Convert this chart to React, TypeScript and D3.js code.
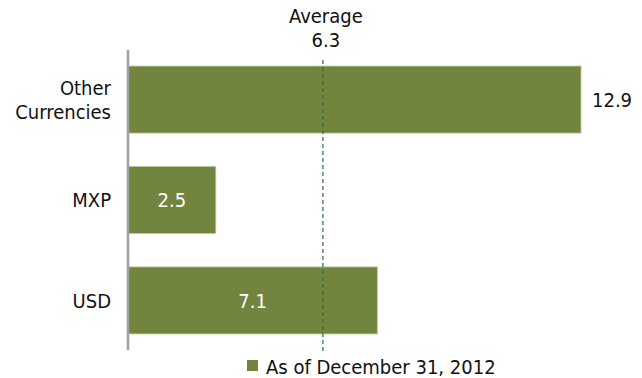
import React from "react";
import * as d3 from "d3";

const categories = ["Other Currencies", "MXP", "USD"];
const values = [12.9, 2.5, 7.1];
const valueLabels = ["12.9", "2.5", "7.1"];
const labelInside = [false, true, true];
const averageLabel = ["Average", "6.3"];
// position where the dashed average marker is drawn in the source picture
const averageMarker = 5.55;
const legendLabel = "As of December 31, 2012";

const W = 642;
const H = 378;
const FONT = "'DejaVu Sans Condensed', 'DejaVu Sans', sans-serif";
const BAR = "#72853F";

export default function App() {
  const x = d3.scaleLinear().domain([0, 12.9]).range([128, 581]);
  const y = d3
    .scaleBand<string>()
    .domain(categories)
    .range([50, 350])
    .paddingInner(0.333)
    .paddingOuter(0.16);
  const bw = y.bandwidth();

  return (
    <svg
      width={W}
      height={H}
      style={{ position: "absolute", left: 0, top: 0, display: "block", background: "#fff" }}
      fontFamily={FONT}
    >
      {categories.map((c, i) => {
        const y0 = y(c)!;
        const cy = y0 + bw / 2;
        const lines = c === "Other Currencies" ? ["Other", "Currencies"] : [c];
        return (
          <g key={c}>
            <rect
              x={x(0)}
              y={y0}
              width={x(values[i]) - x(0)}
              height={bw}
              fill={BAR}
              stroke="#b8c79c"
              strokeWidth={0.8}
            />
            {lines.map((l, k) => (
              <text
                key={l}
                x={111}
                y={cy + (k - (lines.length - 1) / 2) * 24}
                dy="0.36em"
                textAnchor="end"
                fontSize={20}
                fill="#111"
              >
                {l}
              </text>
            ))}
            <text
              x={labelInside[i] ? (x(0) + x(values[i])) / 2 : x(values[i]) + 11}
              y={cy}
              dy="0.36em"
              textAnchor={labelInside[i] ? "middle" : "start"}
              fontSize={20}
              fill={labelInside[i] ? "#ffffff" : "#111"}
            >
              {valueLabels[i]}
            </text>
          </g>
        );
      })}
      <line x1={128} x2={128} y1={50} y2={350} stroke="#a0a0a0" strokeWidth={2.5} />
      <line
        x1={x(averageMarker)}
        x2={x(averageMarker)}
        y1={60}
        y2={352}
        stroke="#2f6b35"
        strokeWidth={1.2}
        strokeDasharray="4,3"
      />
      {averageLabel.map((t, k) => (
        <text
          key={t}
          x={x(averageMarker) + 3}
          y={23 + k * 24}
          textAnchor="middle"
          fontSize={20}
          fill="#111"
        >
          {t}
        </text>
      ))}
      <rect x={247} y={360} width={11} height={11} fill={BAR} />
      <text x={266} y={374} fontSize={20} fill="#111">
        {legendLabel}
      </text>
    </svg>
  );
}
